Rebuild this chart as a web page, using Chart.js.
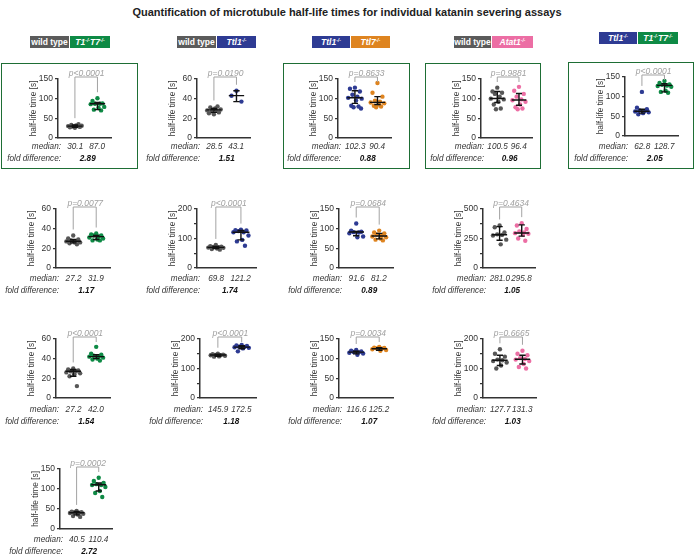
<!DOCTYPE html>
<html>
<head>
<meta charset="utf-8">
<script src="https://cdn.jsdelivr.net/npm/chart.js@4.4.1/dist/chart.umd.min.js"></script>
<style>
  body { margin: 0; background: #fff; }
  #fig { position: relative; width: 695px; height: 558px; overflow: hidden; font-family: "Liberation Sans", Arial, sans-serif; color: #333; }
  .t { position: absolute; white-space: nowrap; line-height: 1; }
  .box { position: absolute; border: 1.5px solid #1e6e35; box-sizing: border-box; }
  .badge { position: absolute; height: 12px; display: flex; gap: 1px; }
  .badge span { display: block; height: 12px; line-height: 12px; color: #fff; font-size: 8.5px; font-weight: bold; text-align: center; }
  .badge span.i { font-style: italic; }
  .badge sup { font-size: 5px; vertical-align: 3px; line-height: 0; }
  canvas { position: absolute; }
</style>
</head>
<body>
<div id="fig"></div>
<script>
const FONT = '"Liberation Sans", Arial, sans-serif';
const COL = { wt: '#575757', t1t7: '#0e8a45', ttl1: '#2e3b93', ttl7: '#de8420', atat1: '#ec6ea4' };

// half-life times [s], one array per group
const r1a_wt = [26, 27, 28, 29, 30, 30, 31, 32, 33, 35];
const r1a_t1t7 = [101, 94, 88, 87, 87, 86, 79, 76, 72, 70];
const r1b_wt = [24, 25, 26, 27, 28, 28, 29, 30, 31, 32];
const r1b_ttl1 = [48, 43, 37];
const r1c_ttl1 = [128, 125, 118, 110, 105, 102, 100, 95, 82, 80, 78, 75];
const r1c_ttl7 = [140, 115, 105, 95, 92, 90, 88, 85, 82, 80, 78];
const r1d_wt = [128, 118, 115, 112, 105, 100, 98, 92, 85, 75, 73];
const r1d_atat1 = [130, 120, 112, 105, 98, 96, 92, 85, 78, 75, 73];
const r1e_ttl1 = [112, 72, 68, 65, 63, 62, 60, 58, 55];
const r1e_t1t7 = [140, 135, 131, 130, 128, 127, 125, 115, 112, 110];

const r2a_wt = [33, 30, 29, 28, 27, 27, 26, 26, 25, 24];
const r2a_t1t7 = [35, 34, 33, 33, 32, 31, 30, 29, 28, 28];
const r2b_wt = [78, 74, 72, 71, 70, 69, 68, 66, 64, 62];
const r2b_ttl1 = [130, 128, 127, 125, 121, 121, 110, 95, 90, 75];
const r2c_ttl1 = [113, 95, 92, 91, 90, 88, 80, 78];
const r2c_ttl7 = [95, 90, 88, 85, 82, 80, 78, 75, 72, 70];
const r2d_wt = [360, 345, 300, 285, 280, 275, 240, 200];
const r2d_atat1 = [380, 360, 330, 310, 300, 295, 290, 280, 250, 230];

const r3a_wt = [30, 29, 28, 27, 27, 26, 25, 24, 22, 12];
const r3a_t1t7 = [52, 45, 44, 43, 42, 42, 41, 40, 39, 38];
const r3b_wt = [150, 148, 147, 146, 145, 145, 143, 141, 140];
const r3b_ttl1 = [180, 178, 176, 174, 173, 172, 170, 168, 158];
const r3c_ttl1 = [122, 120, 118, 117, 116, 115, 113, 110];
const r3c_ttl7 = [130, 128, 127, 126, 125, 124, 122, 120];
const r3d_wt = [165, 150, 140, 130, 128, 125, 120, 110, 100];
const r3d_atat1 = [160, 150, 145, 135, 132, 130, 125, 115, 105, 100];

const r4a_wt = [45, 43, 42, 41, 40, 40, 38, 36, 32, 30];
const r4a_t1t7 = [128, 120, 115, 112, 110, 110, 105, 95, 90, 80];

const panelData = [
  [r1a_wt, r1a_t1t7], [r1b_wt, r1b_ttl1], [r1c_ttl1, r1c_ttl7], [r1d_wt, r1d_atat1], [r1e_ttl1, r1e_t1t7],
  [r2a_wt, r2a_t1t7], [r2b_wt, r2b_ttl1], [r2c_ttl1, r2c_ttl7], [r2d_wt, r2d_atat1],
  [r3a_wt, r3a_t1t7], [r3b_wt, r3b_ttl1], [r3c_ttl1, r3c_ttl7], [r3d_wt, r3d_atat1],
  [r4a_wt, r4a_t1t7]
];
const panelGroups = [
  ['wt', 't1t7'], ['wt', 'ttl1'], ['ttl1', 'ttl7'], ['wt', 'atat1'], ['ttl1', 't1t7'],
  ['wt', 't1t7'], ['wt', 'ttl1'], ['ttl1', 'ttl7'], ['wt', 'atat1'],
  ['wt', 't1t7'], ['wt', 'ttl1'], ['ttl1', 'ttl7'], ['wt', 'atat1'],
  ['wt', 't1t7']
];
const medians = [
  [30.1, 87.0], [28.5, 43.1], [102.3, 90.4], [100.5, 96.4], [62.8, 128.7],
  [27.2, 31.9], [69.8, 121.2], [91.6, 81.2], [281.0, 295.8],
  [27.2, 42.0], [145.9, 172.5], [116.6, 125.2], [127.7, 131.3],
  [40.5, 110.4]
];
const barLow = [
  [27, 72], [26, 37], [88, 85], [90, 83], [58, 112],
  [25.5, 29], [66, 95], [82, 74], [235, 270],
  [22, 40], [141, 167], [112, 121], [110, 115],
  [35, 95]
];
const barHigh = [
  [33, 90], [30, 48], [120, 105], [118, 113], [68, 133],
  [29, 33], [73, 127], [93, 88], [350, 365],
  [29, 44], [148, 177], [119, 128], [145, 145],
  [44, 115]
];
const pValues = ['p<0.0001', 'p=0.0190', 'p=0.8633', 'p=0.9881', 'p<0.0001',
  'p=0.0077', 'p<0.0001', 'p=0.0684', 'p=0.4634',
  'p<0.0001', 'p<0.0001', 'p=0.0034', 'p=0.6665',
  'p=0.0002'];
const foldDiffs = ['2.89', '1.51', '0.88', '0.96', '2.05',
  '1.17', '1.74', '0.89', '1.05',
  '1.54', '1.18', '1.07', '1.03',
  '2.72'];
const yMax = [150, 60, 150, 150, 150, 60, 200, 150, 500, 60, 200, 150, 200, 150];
const yMajor = [50, 20, 50, 50, 50, 20, 100, 50, 250, 20, 100, 50, 100, 50];
const yMinor = [50, 20, 50, 50, 50, 20, 50, 50, 125, 20, 50, 50, 50, 50];

// panel placement (pixels): y-axis x, y of 0, y of top tick, axis length, text row
const layout = [
  { ax: 58, y0: 139, yt: 79, w: 54, row: 0 },
  { ax: 197, y0: 139, yt: 79, w: 54, row: 0 },
  { ax: 338, y0: 139, yt: 79, w: 54, row: 0 },
  { ax: 481, y0: 139, yt: 79, w: 52, row: 0 },
  { ax: 625, y0: 137, yt: 77, w: 54, row: 0 },
  { ax: 56, y0: 269, yt: 209, w: 55, row: 1 },
  { ax: 197, y0: 269, yt: 209, w: 60, row: 1 },
  { ax: 339, y0: 269, yt: 209, w: 55, row: 1 },
  { ax: 483, y0: 269, yt: 209, w: 53, row: 1 },
  { ax: 56, y0: 399, yt: 339, w: 55, row: 2 },
  { ax: 200, y0: 399, yt: 339, w: 57, row: 2 },
  { ax: 339, y0: 399, yt: 339, w: 55, row: 2 },
  { ax: 483, y0: 399, yt: 339, w: 54, row: 2 },
  { ax: 60, y0: 530, yt: 469, w: 53, row: 3 }
];
const rowTextY = [147, 279, 410, 540];
const jitter = [0, -0.22, 0.22, -0.11, 0.11, -0.3, 0.3, 0.05, -0.16, 0.16, -0.06, 0.27];
const X_MIN = -0.75, X_MAX = 1.6;

const fig = document.getElementById('fig');

function addText(html, x, y, style, align) {
  const d = document.createElement('div');
  d.className = 't';
  d.innerHTML = html;
  Object.assign(d.style, style);
  d.style.left = x + 'px';
  d.style.top = y + 'px';
  const tx = align === 'right' ? '-100%' : align === 'left' ? '0' : '-50%';
  d.style.transform = 'translate(' + tx + ',-50%)';
  fig.appendChild(d);
}

function addBox(l, t, r, b) {
  const d = document.createElement('div');
  d.className = 'box';
  Object.assign(d.style, { left: l + 'px', top: t + 'px', width: (r - l) + 'px', height: (b - t) + 'px' });
  fig.appendChild(d);
}

function addBadge(x, y, parts) {
  const d = document.createElement('div');
  d.className = 'badge';
  d.style.left = x + 'px';
  d.style.top = y + 'px';
  parts.forEach(p => {
    const s = document.createElement('span');
    s.innerHTML = p.text;
    s.style.background = p.color;
    s.style.width = p.width + 'px';
    if (p.italic) s.className = 'i';
    d.appendChild(s);
  });
  fig.appendChild(d);
}

addText('Quantification of microtubule half-life times for individual katanin severing assays', 347, 12,
  { fontSize: '11px', fontWeight: 'bold', color: '#222' });

const KO = '<sup>-/-</sup>';
addBadge(30, 36, [{ text: 'wild type', color: '#5b5b5b', width: 39 }, { text: 'T1' + KO + 'T7' + KO, color: COL.t1t7, width: 40, italic: true }]);
addBadge(177, 36, [{ text: 'wild type', color: '#5b5b5b', width: 39 }, { text: 'Ttl1' + KO, color: COL.ttl1, width: 39, italic: true }]);
addBadge(312, 36, [{ text: 'Ttl1' + KO, color: COL.ttl1, width: 38 }, { text: 'Ttl7' + KO, color: COL.ttl7, width: 39 }].map(p => ({ ...p, italic: true })));
addBadge(454, 36, [{ text: 'wild type', color: '#5b5b5b', width: 37 }, { text: 'Atat1' + KO, color: COL.atat1, width: 41, italic: true }]);
addBadge(599, 32, [{ text: 'Ttl1' + KO, color: COL.ttl1, width: 38, italic: true }, { text: 'T1' + KO + 'T7' + KO, color: COL.t1t7, width: 40, italic: true }]);

addBox(1, 63, 138, 169);
addBox(283, 63, 410, 169);
addBox(425, 63, 541, 169);
addBox(568, 62, 694, 169);

function makeSummary(i) {
  return {
    id: 'summary' + i,
    afterDatasetsDraw(chart) {
      const { ctx, scales: { x, y } } = chart;
      ctx.save();
      // bracket with p-value legs
      const top = y.getPixelForValue(yMax[i]) - 2;
      ctx.strokeStyle = '#a3a3a3';
      ctx.lineWidth = 1;
      ctx.beginPath();
      panelData[i].forEach((g, k) => {
        const px = x.getPixelForValue(k);
        const leg = Math.max(y.getPixelForValue(Math.max(...g)) - 6, top + 5);
        if (k === 0) { ctx.moveTo(px, leg); ctx.lineTo(px, top); }
        else { ctx.lineTo(px, top); ctx.lineTo(px, leg); }
      });
      ctx.stroke();
      // median line with range bar
      ctx.strokeStyle = '#111';
      ctx.lineWidth = 1.4;
      ctx.beginPath();
      medians[i].forEach((m, k) => {
        const cx = x.getPixelForValue(k);
        const hw = x.getPixelForValue(k + 0.34) - cx;
        const cw = x.getPixelForValue(k + 0.14) - cx;
        const ym = y.getPixelForValue(m);
        const yl = y.getPixelForValue(barLow[i][k]);
        const yh = y.getPixelForValue(barHigh[i][k]);
        ctx.moveTo(cx - hw, ym); ctx.lineTo(cx + hw, ym);
        ctx.moveTo(cx, yl); ctx.lineTo(cx, yh);
        ctx.moveTo(cx - cw, yl); ctx.lineTo(cx + cw, yl);
        ctx.moveTo(cx - cw, yh); ctx.lineTo(cx + cw, yh);
      });
      ctx.stroke();
      ctx.restore();
    }
  };
}

const padT = 8, padB = 6, padR = 3, yw = 30;

layout.forEach((L, i) => {
  const cv = document.createElement('canvas');
  cv.width = yw + L.w + padR;
  cv.height = (L.y0 - L.yt) + padT + padB;
  cv.style.left = (L.ax - yw) + 'px';
  cv.style.top = (L.yt - padT) + 'px';
  fig.appendChild(cv);

  const datasets = panelData[i].map((vals, k) => ({
    data: vals.map((v, j) => ({ x: k + jitter[j % jitter.length], y: v })),
    backgroundColor: COL[panelGroups[i][k]],
    borderWidth: 0,
    pointRadius: 2.2
  }));

  new Chart(cv, {
    type: 'scatter',
    data: { datasets },
    options: {
      responsive: false,
      animation: false,
      events: [],
      layout: { padding: { top: padT, right: padR, bottom: padB, left: 0 } },
      plugins: { legend: { display: false }, tooltip: { enabled: false } },
      scales: {
        x: {
          type: 'linear', min: X_MIN, max: X_MAX,
          ticks: { display: false },
          grid: { display: false },
          border: { display: true, color: '#333', width: 1.5 },
          afterFit(s) { s.height = 0; }
        },
        y: {
          min: 0, max: yMax[i],
          ticks: {
            stepSize: yMinor[i],
            font: { size: 8.5, family: FONT },
            color: '#333',
            padding: 2,
            callback: v => (v % yMajor[i] === 0 ? v : '')
          },
          grid: { drawOnChartArea: false, tickLength: 3, color: '#333', lineWidth: 1.2 },
          border: { color: '#333', width: 1.5 },
          title: { display: true, text: 'half-life time [s]', font: { size: 8.3, family: FONT }, color: '#333', padding: { top: 1, bottom: 0 } },
          afterFit(s) { s.width = yw; }
        }
      }
    },
    plugins: [makeSummary(i)]
  });

  // texts under and above each panel
  const gx0 = L.ax + L.w * (0 - X_MIN) / (X_MAX - X_MIN);
  const gx1 = L.ax + L.w * (1 - X_MIN) / (X_MAX - X_MIN);
  const ty = rowTextY[L.row];
  const it = { fontSize: '8.2px', fontStyle: 'italic', color: '#333' };
  addText(pValues[i], (gx0 + gx1) / 2, L.yt - 6, { fontSize: '8.5px', fontStyle: 'italic', color: '#a0a0a0' });
  addText('median:', L.ax + 3, ty, it, 'right');
  addText(medians[i][0].toFixed(1), gx0, ty, it);
  addText(medians[i][1].toFixed(1), gx1 - 1, ty, it);
  addText('fold difference:', L.ax + 3, ty + 12, it, 'right');
  addText(foldDiffs[i], (gx0 + gx1) / 2 + 1, ty + 12, { ...it, fontWeight: 'bold', color: '#111' });
});
</script>
</body>
</html>
